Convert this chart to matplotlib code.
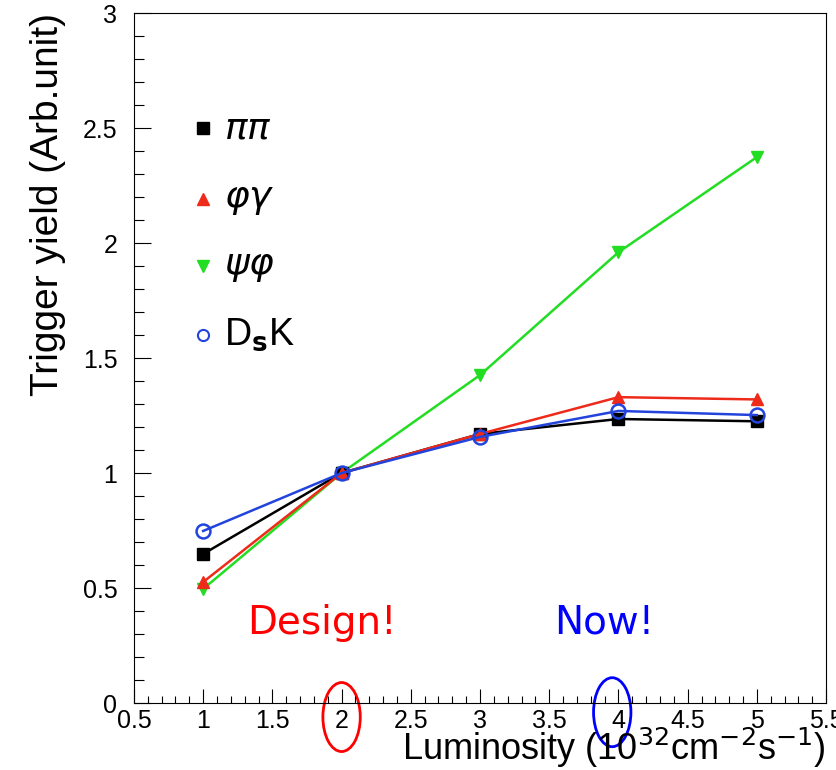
import matplotlib
matplotlib.use("Agg")
import matplotlib.pyplot as plt
from matplotlib.patches import Ellipse
from matplotlib.ticker import MultipleLocator, FuncFormatter

plt.rcParams["font.family"] = ["Liberation Sans", "DejaVu Sans"]
plt.rcParams["xtick.labelsize"] = 18
plt.rcParams["ytick.labelsize"] = 18

# luminosity points (10^32 cm^-2 s^-1)
lumi = [1, 2, 3, 4, 5]

# trigger yield, normalised to design luminosity
yield_pipi = [0.648, 1.0, 1.17, 1.235, 1.225]
yield_phigamma = [0.526, 1.0, 1.17, 1.33, 1.32]
yield_psiphi = [0.496, 1.0, 1.426, 1.96, 2.374]
yield_dsk = [0.748, 1.0, 1.157, 1.27, 1.252]

legend_labels = [r"$\pi\pi$", r"$\varphi\gamma$", r"$\psi\varphi$", r"D$_{\mathbf{s}}$K"]
legend_y = [2.5, 2.19, 1.9, 1.6]


def short_num(v, pos):
    return f"{v:g}"


fig = plt.figure(figsize=(8.37, 7.7), dpi=100)
ax = fig.add_axes([0.160, 0.087, 0.827, 0.896])

ax.plot(lumi, yield_pipi, color="black", lw=1.8, marker="s", ms=9, zorder=3)
ax.plot(lumi, yield_phigamma, color="#ee2a1a", lw=1.8, marker="^", ms=9, zorder=3)
ax.plot(lumi, yield_psiphi, color="#22dd22", lw=1.8, marker="v", ms=9, zorder=2)
ax.plot(lumi, yield_dsk, color="#2244dd", lw=1.8, marker="o", ms=10,
        mfc="none", mew=1.8, zorder=4)

# hand-made legend, ROOT style
styles = [
    dict(color="black", marker="s", ms=8),
    dict(color="#ee2a1a", marker="^", ms=8),
    dict(color="#22dd22", marker="v", ms=8),
    dict(color="#2244dd", marker="o", ms=8, mfc="none", mew=1.5),
]
for lab, yy, st in zip(legend_labels, legend_y, styles):
    ax.plot([1.0], [yy], ls="none", **st)
    ax.text(1.15, yy, lab, fontsize=27, va="center", ha="left")

ax.set_xlim(0.5, 5.5)
ax.set_ylim(0, 3)
ax.xaxis.set_major_locator(MultipleLocator(0.5))
ax.xaxis.set_minor_locator(MultipleLocator(0.1))
ax.yaxis.set_major_locator(MultipleLocator(0.5))
ax.yaxis.set_minor_locator(MultipleLocator(0.1))
ax.xaxis.set_major_formatter(FuncFormatter(short_num))
ax.yaxis.set_major_formatter(FuncFormatter(short_num))
ax.tick_params(which="both", direction="in", top=False, right=False, width=0.8)
ax.tick_params(axis="x", which="major", length=10, pad=4)
ax.tick_params(axis="x", which="minor", length=5)
ax.tick_params(axis="y", which="major", length=12, pad=12)
ax.tick_params(axis="y", which="minor", length=7)

ax.set_ylabel("Trigger yield (Arb.unit)", fontsize=28, loc="top", labelpad=12)
ax.set_xlabel(r"Luminosity (10$^{32}$cm$^{-2}$s$^{-1}$)", fontsize=26,
              loc="right", labelpad=-5)

ax.text(1.86, 0.35, "Design!", color="red", fontsize=28, ha="center", va="center",
        family="DejaVu Sans")
ax.text(3.9, 0.35, "Now!", color="blue", fontsize=28, ha="center", va="center",
        family="DejaVu Sans")

ax.add_patch(Ellipse((2.0, -0.061), 0.27, 0.30, fill=False, ec="red", lw=2,
                     clip_on=False))
ax.add_patch(Ellipse((3.955, -0.04), 0.27, 0.30, fill=False, ec="blue", lw=2,
                     clip_on=False))

fig.savefig("out.png", dpi=100)
